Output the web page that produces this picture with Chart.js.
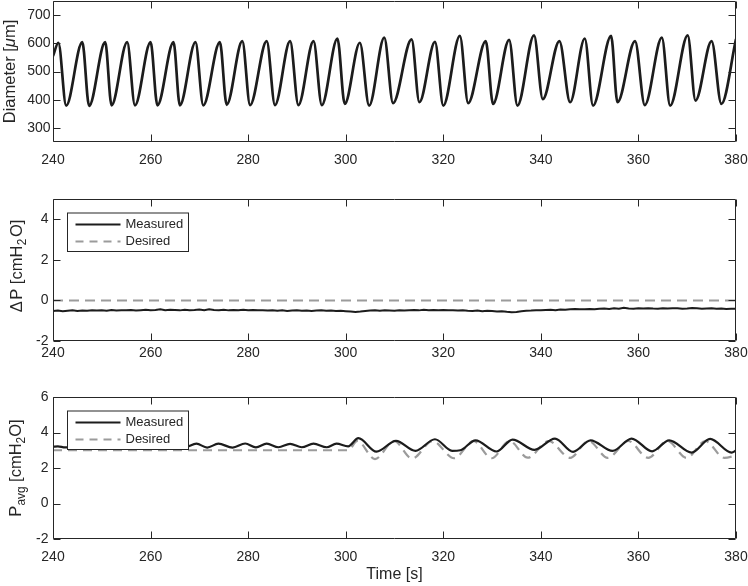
<!DOCTYPE html>
<html>
<head>
<meta charset="utf-8">
<script src="https://cdn.jsdelivr.net/npm/chart.js@4.4.1/dist/chart.umd.min.js"></script>
<style>
  body { margin: 0; background: #fff; }
  #wrap { position: relative; width: 748px; height: 586px; }
  canvas { position: absolute; left: 0; }
</style>
</head>
<body>
<div id="wrap">
  <canvas id="diamChart" width="748" height="180" style="top:0"></canvas>
  <canvas id="dpChart" width="748" height="180" style="top:180px"></canvas>
  <canvas id="pavgChart" width="748" height="226" style="top:360px"></canvas>
</div>
<script>
// tick labels
const timeTicks = [240, 260, 280, 300, 320, 340, 360, 380];
const diamTicks = [300, 400, 500, 600, 700];
const dpTicks = [-2, 0, 2, 4];
const pavgTicks = [-2, 0, 2, 4, 6];

// diameter, peaks and troughs
const diamTime = [240, 241.1, 242.7, 246.0, 247.4, 250.7, 252.0, 255.2, 256.8, 260.0, 261.4, 264.7, 266.0,
  269.2, 270.8, 274.2, 275.6, 278.8, 280.4, 283.8, 285.5, 288.6, 290.3, 293.4, 295.1, 298.3, 299.8,
  302.9, 304.8, 307.9, 309.7, 313.5, 315.1, 318.3, 320.0, 323.4, 325.1, 328.7, 330.2, 333.5, 335.2,
  338.6, 340.4, 343.8, 346.0, 349.0, 350.7, 354.4, 355.7, 359.3, 361.3, 364.8, 366.5, 370.1, 371.7,
  375.0, 377.0, 380];
const diamValue = [555, 602, 379, 604, 378, 604, 380, 604, 380, 604, 380, 604, 380,
  604, 380, 604, 382, 608, 381, 608, 381, 608, 381, 608, 381, 617, 385,
  602, 379, 620, 388, 614, 391, 605, 379, 626, 388, 608, 385, 612, 379,
  628, 402, 608, 391, 617, 379, 626, 391, 608, 381, 620, 379, 628, 397,
  608, 385, 615];

// delta P, one sample per second from 240 s to 380 s
const dpMeasured = [
  -0.52, -0.50, -0.53, -0.51, -0.49, -0.52, -0.50, -0.51, -0.48, -0.50,
  -0.49, -0.51, -0.47, -0.50, -0.48, -0.49, -0.47, -0.50, -0.48, -0.46,
  -0.48, -0.47, -0.44, -0.48, -0.46, -0.47, -0.49, -0.46, -0.48, -0.47,
  -0.45, -0.48, -0.44, -0.47, -0.48, -0.46, -0.49, -0.47, -0.48, -0.46,
  -0.48, -0.47, -0.49, -0.48, -0.50, -0.48, -0.51, -0.49, -0.52, -0.50,
  -0.49, -0.51, -0.50, -0.52, -0.50, -0.49, -0.51, -0.50, -0.52, -0.51,
  -0.53, -0.55, -0.57, -0.55, -0.52, -0.50, -0.48, -0.51, -0.49, -0.50,
  -0.51, -0.49, -0.50, -0.48, -0.47, -0.49, -0.46, -0.48, -0.47, -0.49,
  -0.47, -0.49, -0.48, -0.50, -0.49, -0.51, -0.52, -0.50, -0.53, -0.51,
  -0.52, -0.54, -0.53, -0.56, -0.58, -0.57, -0.53, -0.51, -0.50, -0.48,
  -0.49, -0.47, -0.46, -0.48, -0.45, -0.46, -0.44, -0.42, -0.44, -0.43,
  -0.42, -0.44, -0.41, -0.40, -0.42, -0.39, -0.41, -0.36, -0.40, -0.41,
  -0.39, -0.40, -0.38, -0.40, -0.41, -0.39, -0.40, -0.38, -0.39, -0.41,
  -0.40, -0.37, -0.39, -0.41, -0.40, -0.39, -0.41, -0.40, -0.42, -0.41, -0.41];
const dpTime = dpMeasured.map((v, i) => 240 + i);
const dpDesiredTime = [240, 380];
const dpDesired = [0, 0];

// P avg
const pavgTime = [240, 241, 242.5, 244, 248, 252, 256, 260, 264, 267,
  269.4, 271.6, 273.9, 276.8, 279.4, 281.6, 283.8, 286.2, 288.6, 291.0, 293.4, 296.1, 298.1,
  300.5, 302.6, 306.3, 310.3, 314.3, 318.3, 321.8, 323.5, 326.6, 330.9, 334.2, 338.7, 342.9,
  346.6, 350.2, 354.7, 358.6, 362.8, 366.3, 370.9, 374.7, 379.1, 380];
const pavgMeasured = [3.20, 3.22, 3.16, 3.20, 3.22, 3.19, 3.22, 3.19, 3.21, 3.17,
  3.37, 3.15, 3.37, 3.15, 3.38, 3.16, 3.37, 3.17, 3.36, 3.17, 3.37, 3.17, 3.37,
  3.22, 3.68, 2.92, 3.53, 2.97, 3.62, 2.97, 3.00, 3.56, 2.93, 3.60, 3.02, 3.66,
  2.91, 3.56, 2.96, 3.66, 2.94, 3.56, 2.87, 3.64, 2.87, 2.98];
const pavgDesiredTime = [240, 300.5, 302.4, 306.0, 309.9, 313.6, 317.8, 322.2, 326.2, 329.9, 333.6,
  337.3, 341.6, 346.0, 349.8, 353.7, 357.9, 362.0, 365.9, 369.9, 373.7, 377.6, 380];
const pavgDesired = [3.0, 3.0, 3.52, 2.50, 3.52, 2.53, 3.52, 2.55, 3.52, 2.55, 3.52,
  2.58, 3.52, 2.57, 3.52, 2.57, 3.52, 2.57, 3.52, 2.57, 3.52, 2.57, 2.70];

const fontFamily = '"Liberation Sans", Arial, Helvetica, sans-serif';
const axisColor = '#262626';
const darkLine = '#1c1c1c';
const grayLine = '#9b9b9b';

function pairs(xs, ys) {
  return xs.map((x, i) => ({ x: x, y: ys[i] }));
}

function drawRotated(ctx, cx, cy, segs, size) {
  ctx.save();
  ctx.translate(cx, cy);
  ctx.rotate(-Math.PI / 2);
  ctx.fillStyle = axisColor;
  ctx.textBaseline = 'middle';
  ctx.textAlign = 'left';
  const fontFor = s => (s.italic ? 'italic ' : '') + (s.sub ? size * 0.72 : size) + 'px ' + fontFamily;
  const widths = segs.map(s => { ctx.font = fontFor(s); return ctx.measureText(s.text).width + (s.gap || 0); });
  let xx = -widths.reduce((a, b) => a + b, 0) / 2;
  segs.forEach((s, i) => {
    ctx.font = fontFor(s);
    ctx.fillText(s.text, xx, s.sub ? size * 0.32 : 0);
    xx += widths[i];
  });
  ctx.restore();
}

// box, inward ticks, legend and axis titles (MATLAB look)
const framePlugin = {
  id: 'frame',
  afterDraw(chart, args, opts) {
    const { ctx, chartArea: a } = chart;
    const x = chart.scales.x, y = chart.scales.y;
    const L = Math.round(a.left) + 0.5, R = Math.round(a.right) - 0.5;
    const T = Math.round(a.top) + 0.5, B = Math.round(a.bottom) - 0.5;
    ctx.save();
    ctx.strokeStyle = axisColor;
    ctx.lineWidth = 1;
    ctx.beginPath();
    ctx.rect(L, T, R - L, B - T);
    x.ticks.forEach(t => {
      const px = Math.round(x.getPixelForValue(t.value)) + 0.5;
      ctx.moveTo(px, B); ctx.lineTo(px, B - 7);
      ctx.moveTo(px, T); ctx.lineTo(px, T + 7);
    });
    y.ticks.forEach(t => {
      const py = Math.round(y.getPixelForValue(t.value)) + 0.5;
      ctx.moveTo(L, py); ctx.lineTo(L + 7, py);
      ctx.moveTo(R, py); ctx.lineTo(R - 7, py);
    });
    ctx.stroke();

    if (opts.legend) {
      const bx = L + 14, by = T + 13.5, bw = 121, bh = 38.5;
      ctx.fillStyle = '#fff';
      ctx.fillRect(bx, by, bw, bh);
      ctx.strokeRect(bx, by, bw, bh);
      ctx.font = '13px ' + fontFamily;
      ctx.textBaseline = 'middle';
      ctx.textAlign = 'left';
      opts.legend.forEach((item, i) => {
        const ly = by + 11.5 + i * 17;
        ctx.save();
        ctx.strokeStyle = item.color;
        ctx.lineWidth = 2;
        ctx.setLineDash(item.dash);
        ctx.beginPath();
        ctx.moveTo(bx + 8, ly); ctx.lineTo(bx + 53, ly);
        ctx.stroke();
        ctx.restore();
        ctx.fillStyle = axisColor;
        ctx.fillText(item.label, bx + 58, ly);
      });
    }

    if (opts.yTitle) {
      drawRotated(ctx, opts.yTitleX, (a.top + a.bottom) / 2 + (opts.yTitleShift || 0), opts.yTitle, 16.5);
    }
    if (opts.xTitle) {
      ctx.fillStyle = axisColor;
      ctx.font = '16px ' + fontFamily;
      ctx.textAlign = 'center';
      ctx.textBaseline = 'middle';
      ctx.fillText(opts.xTitle, (a.left + a.right) / 2, a.bottom + 36);
    }
    ctx.restore();
  }
};

function makeOptions(cfg) {
  return {
    responsive: false,
    animation: false,
    events: [],
    layout: { padding: { top: cfg.padTop, right: 12, bottom: 0, left: 0 } },
    plugins: {
      legend: { display: false },
      tooltip: { enabled: false },
      frame: cfg.frame
    },
    scales: {
      x: {
        type: 'linear',
        min: 240,
        max: 380,
        grid: { display: false, drawTicks: false },
        border: { display: false },
        ticks: { color: axisColor, font: { family: fontFamily, size: 14 }, padding: cfg.xPad, maxRotation: 0 },
        afterBuildTicks: s => { s.ticks = timeTicks.map(v => ({ value: v })); },
        afterFit: s => { s.height = cfg.xHeight; s.paddingLeft = 0; s.paddingRight = 0; }
      },
      y: {
        type: 'linear',
        min: cfg.yMin,
        max: cfg.yMax,
        grid: { display: false, drawTicks: false },
        border: { display: false },
        ticks: { color: axisColor, font: { family: fontFamily, size: 14 }, padding: cfg.yPad },
        afterBuildTicks: s => { s.ticks = cfg.yTicks.map(v => ({ value: v })); },
        afterFit: s => { s.width = 53; s.paddingTop = 0; s.paddingBottom = 0; }
      }
    }
  };
}

new Chart(document.getElementById('diamChart'), {
  type: 'line',
  data: {
    datasets: [{
      data: pairs(diamTime, diamValue),
      borderColor: darkLine,
      borderWidth: 2.7,
      pointRadius: 0,
      cubicInterpolationMode: 'monotone'
    }]
  },
  options: makeOptions({
    padTop: 1, xHeight: 38, xPad: 9.5, yPad: 2.5, yMin: 250, yMax: 750, yTicks: diamTicks,
    frame: { yTitleX: 10, yTitle: [{ text: 'Diameter [' }, { text: 'μ', italic: true }, { text: 'm]' }] }
  }),
  plugins: [framePlugin]
});

new Chart(document.getElementById('dpChart'), {
  type: 'line',
  data: {
    datasets: [{
      data: pairs(dpTime, dpMeasured),
      borderColor: darkLine,
      borderWidth: 2,
      pointRadius: 0,
      tension: 0
    }, {
      data: pairs(dpDesiredTime, dpDesired),
      borderColor: grayLine,
      borderWidth: 2,
      borderDash: [10, 6],
      pointRadius: 0
    }]
  },
  options: makeOptions({
    padTop: 19, xHeight: 19, xPad: 3.5, yPad: 4.5, yMin: -2, yMax: 5, yTicks: dpTicks,
    frame: {
      yTitleX: 17,
      yTitleShift: -4,
      yTitle: [{ text: 'Δ', gap: 1.5 }, { text: 'P [cmH', gap: 0.5 }, { text: '2', sub: true, gap: 1.5 }, { text: 'O]' }],
      legend: [{ label: 'Measured', color: darkLine, dash: [] }, { label: 'Desired', color: grayLine, dash: [8, 6] }]
    }
  }),
  plugins: [framePlugin]
});

new Chart(document.getElementById('pavgChart'), {
  type: 'line',
  data: {
    datasets: [{
      data: pairs(pavgTime, pavgMeasured),
      borderColor: darkLine,
      borderWidth: 2.2,
      pointRadius: 0,
      cubicInterpolationMode: 'monotone'
    }, {
      data: pairs(pavgDesiredTime, pavgDesired),
      borderColor: grayLine,
      borderWidth: 2.2,
      borderDash: [9, 6],
      pointRadius: 0,
      cubicInterpolationMode: 'monotone'
    }]
  },
  options: makeOptions({
    padTop: 37, xHeight: 47, xPad: 9.5, yPad: 4.5, yMin: -2, yMax: 6, yTicks: pavgTicks,
    frame: {
      yTitleX: 16,
      yTitle: [{ text: 'P' }, { text: 'avg', sub: true }, { text: ' [cmH' }, { text: '2', sub: true }, { text: 'O]' }],
      legend: [{ label: 'Measured', color: darkLine, dash: [] }, { label: 'Desired', color: grayLine, dash: [8, 6] }],
      xTitle: 'Time [s]'
    }
  }),
  plugins: [framePlugin]
});
</script>
</body>
</html>
